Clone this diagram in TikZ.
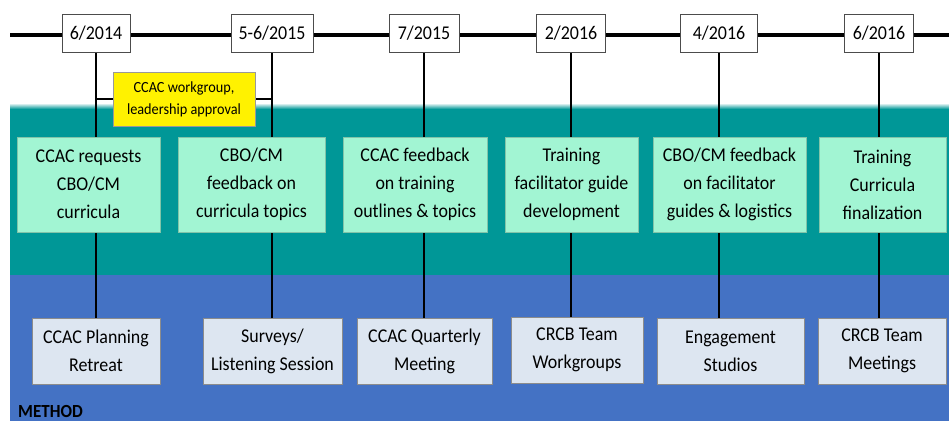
\documentclass[tikz,border=0pt]{standalone}
\usepackage{fontspec}
\setmainfont{Carlito}[FakeStretch=0.92]
\definecolor{tealband}{HTML}{009797}
\definecolor{blueband}{HTML}{4472C4}
\definecolor{mint}{HTML}{A2F5D3}
\definecolor{paleblue}{HTML}{DDE6F1}
\pgfdeclarelayer{bg}
\pgfdeclarelayer{mid}
\pgfsetlayers{bg,mid,main}
\begin{document}
\begin{tikzpicture}[x=1pt,y=-1pt,
  txt/.style={font=\fontsize{19.5}{28}\selectfont, align=center, inner sep=0pt, text=black},
  datebox/.style={txt, draw=black!70, line width=0.8pt, fill=white, minimum height=38pt},
  topbox/.style={txt, fill=mint, draw=mint!80!black, line width=0.4pt, minimum height=95pt},
  methodbox/.style={txt, fill=paleblue, draw=black!45, line width=0.6pt, minimum height=66pt},
  note/.style={font=\fontsize{15.5}{22}\selectfont, align=center, inner sep=0pt, fill=yellow, draw=black!40, line width=0.6pt, minimum width=142pt, minimum height=54pt},
  link/.style={draw=black, line width=1.1pt}]
\useasboundingbox (0,0) rectangle (949,421);

% date boxes
\node[datebox, minimum width=68pt] (d1) at (96,33) {6/2014};
\node[datebox, minimum width=82pt] (d2) at (272,33) {5-6/2015};
\node[datebox, minimum width=70pt] (d3) at (424,33) {7/2015};
\node[datebox, minimum width=69pt] (d4) at (571,33) {2/2016};
\node[datebox, minimum width=77pt] (d5) at (719,33) {4/2016};
\node[datebox, minimum width=69pt] (d6) at (879,33) {6/2016};

% top (process) boxes
\node[topbox, minimum width=143pt] (t1) at (88.5,184.5) {CCAC requests\\CBO/CM\\curricula};
\node[topbox, minimum width=147pt] (t2) at (251.5,184.5) {CBO/CM\\feedback on\\curricula topics};
\node[topbox, minimum width=144pt] (t3) at (415,184.5) {CCAC feedback\\on training\\outlines \& topics};
\node[topbox, minimum width=133pt] (t4) at (571.5,184.5) {Training\\facilitator guide\\development};
\node[topbox, minimum width=153pt] (t5) at (729.5,184.5) {CBO/CM feedback\\on facilitator\\guides \& logistics};
\node[topbox, minimum width=127pt] (t6) at (882.5,184.5) {Training\\Curricula\\finalization};

% method boxes
\node[methodbox, minimum width=128pt] (b1) at (96,351) {CCAC Planning\\Retreat};
\node[methodbox, minimum width=139pt] (b2) at (272.5,351) {Surveys/\\Listening Session};
\node[methodbox, minimum width=135pt] (b3) at (424.5,351) {CCAC Quarterly\\Meeting};
\node[methodbox, minimum width=132pt] (b4) at (577,350) {CRCB Team\\Workgroups};
\node[methodbox, minimum width=147pt] (b5) at (730.5,351) {Engagement\\Studios};
\node[methodbox, minimum width=128pt] (b6) at (882,351) {CRCB Team\\Meetings};

% note
\node[note] (y) at (184,99) {CCAC workgroup,\\leadership approval};

% label
\node[font=\fontsize{18.5}{20}\selectfont\bfseries, anchor=base west, inner sep=0pt] (m) at (18,417) {METHOD};

\begin{pgfonlayer}{bg}
  \fill[tealband] (10,107) rectangle (949,275);
  \fill[blueband] (10,275) rectangle (949,421);
  \shade[top color=white, bottom color=tealband] (10,103) rectangle (949,109);
\end{pgfonlayer}

\begin{pgfonlayer}{mid}
  \coordinate (tlA) at (10,35);
  \coordinate (tlB) at (949,35);
  \draw[line width=4.5pt] (tlA) -- (tlB);
  \foreach \i in {1,...,6} {
    \draw[link] (d\i.south) -- (d\i.south |- b\i.north);
  }
  \draw[link] (y.west) -- (y.west -| d1.south);
  \draw[link] (y.east) -- (y.east -| d2.south);
\end{pgfonlayer}
\end{tikzpicture}
\end{document}
